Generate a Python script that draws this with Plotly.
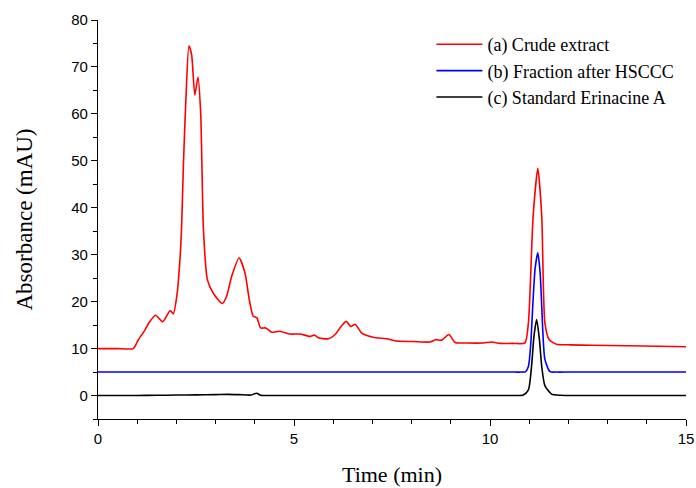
import plotly.graph_objects as go

# Crude extract (a)
t_a = [0, 0.5, 0.9, 1.03, 1.2, 1.3, 1.47, 1.65, 1.84, 1.92, 2.02, 2.09, 2.13, 2.18, 2.245, 2.32, 2.39, 2.47,
       2.55, 2.62, 2.69, 2.79, 2.94, 3.17, 3.28, 3.41, 3.6, 3.75, 3.86, 3.96, 4.05, 4.15, 4.28, 4.43,
       4.64, 4.9, 5.15, 5.41, 5.52, 5.62, 5.88, 6.05, 6.17, 6.33, 6.45, 6.56, 6.73, 7.02, 7.36, 7.62,
       8.04, 8.47, 8.62, 8.77, 8.95, 9.11, 9.4, 9.83, 10.04, 10.26, 10.6, 10.89, 10.98, 11.1, 11.22, 11.32,
       11.4, 11.51, 11.7, 12.04, 12.6, 13.5, 14.3, 15]
v_a = [10, 10, 10, 11.9, 14.0, 15.5, 17.1, 15.7, 18.1, 17.4, 21.8, 28.9, 35.3, 49.5, 63.7, 74.5, 72.5, 64.0,
       67.8, 60.1, 35.3, 24.7, 21.8, 19.6, 21.1, 25.4, 29.3, 26.1, 20.4, 16.9, 16.6, 14.4, 14.4, 13.5,
       13.7, 13.1, 13.1, 12.6, 12.9, 12.3, 12.1, 13.0, 14.4, 15.8, 14.7, 15.2, 13.3, 12.4, 12.1, 11.6,
       11.5, 11.4, 11.9, 11.8, 13.0, 11.3, 11.2, 11.2, 11.4, 11.1, 11.1, 11.2, 15.5, 38.2, 48.4, 38.2,
       15.5, 11.9, 10.9, 10.8, 10.7, 10.6, 10.5, 10.4]

# Fraction after HSCCC (b)
t_b = [0, 5, 10.5, 10.8, 10.9, 10.98, 11.04, 11.09, 11.15, 11.22, 11.28, 11.32, 11.40, 11.53, 11.7,
       12.0, 13.5, 15]
v_b = [5, 5, 5, 5, 5.05, 6.2, 11, 19, 27, 30.4, 26, 19, 7.7, 5.1, 5, 5, 5, 5]

# Standard Erinacine A (c)
t_c = [0, 1.0, 1.5, 2.0, 2.5, 3.0, 3.3, 3.6, 3.9, 4.05, 4.15, 4.5, 6, 8, 10, 10.6, 10.85, 10.98, 11.06,
       11.12, 11.19, 11.26, 11.32, 11.40, 11.57, 11.8, 12.2, 13.5, 15]
v_c = [0, 0, 0.05, 0.1, 0.15, 0.2, 0.25, 0.2, 0.1, 0.5, 0.05, 0, 0, 0, 0, 0, 0.1, 1.2, 6.2,
       12.5, 16.2, 12, 6.2, 2.1, 0.3, 0.05, 0, 0, 0]

names = ["(a) Crude extract", "(b) Fraction after HSCCC", "(c) Standard Erinacine A"]
colors = ["#ff0000", "#0000ff", "#000000"]

x_ticks = [0, 5, 10, 15]
y_ticks = [0, 10, 20, 30, 40, 50, 60, 70, 80]

fig = go.Figure()
for t, v, n, c in zip([t_a, t_b, t_c], [v_a, v_b, v_c], names, colors):
    fig.add_trace(go.Scatter(x=t, y=v, mode="lines", name=n,
                             line=dict(color=c, width=1.6, shape="spline", smoothing=0.6)))

serif = "Palatino Linotype, Book Antiqua, Liberation Serif, serif"
fig.update_layout(
    width=696, height=488,
    margin=dict(l=98, r=10, t=20, b=69),
    paper_bgcolor="white", plot_bgcolor="white",
    showlegend=True,
    legend=dict(x=0.567, y=0.985, xanchor="left", yanchor="top",
                font=dict(family=serif, size=18, color="black"),
                bgcolor="rgba(0,0,0,0)", tracegroupgap=0, itemwidth=46),
    xaxis=dict(range=[0, 15], tickvals=x_ticks, ticks="outside", ticklen=6, tickwidth=1.2,
               showline=True, linecolor="black", linewidth=1.2, showgrid=False, zeroline=False,
               automargin=False,
               minor=dict(dtick=1, ticks="outside", ticklen=4, tickwidth=1.2, tickcolor="black"),
               tickcolor="black",
               tickfont=dict(family="Liberation Sans, Arial", size=15, color="black"),
               title=dict(text="Time (min)", font=dict(family=serif, size=22, color="black"),
                          standoff=20)),
    yaxis=dict(range=[-5, 80], tickvals=y_ticks, ticks="outside", ticklen=6, tickwidth=1.2,
               showline=True, linecolor="black", linewidth=1.2, showgrid=False, zeroline=False,
               automargin=False,
               minor=dict(dtick=5, tick0=0, ticks="outside", ticklen=4, tickwidth=1.2, tickcolor="black"),
               tickcolor="black",
               tickfont=dict(family="Liberation Sans, Arial", size=15, color="black"),
               title=dict(text="Absorbance (mAU)", font=dict(family=serif, size=23, color="black"),
                          standoff=32)),
)

fig.write_html("out.html", config={"displayModeBar": False},
               post_script="document.body.style.margin='0px';")
